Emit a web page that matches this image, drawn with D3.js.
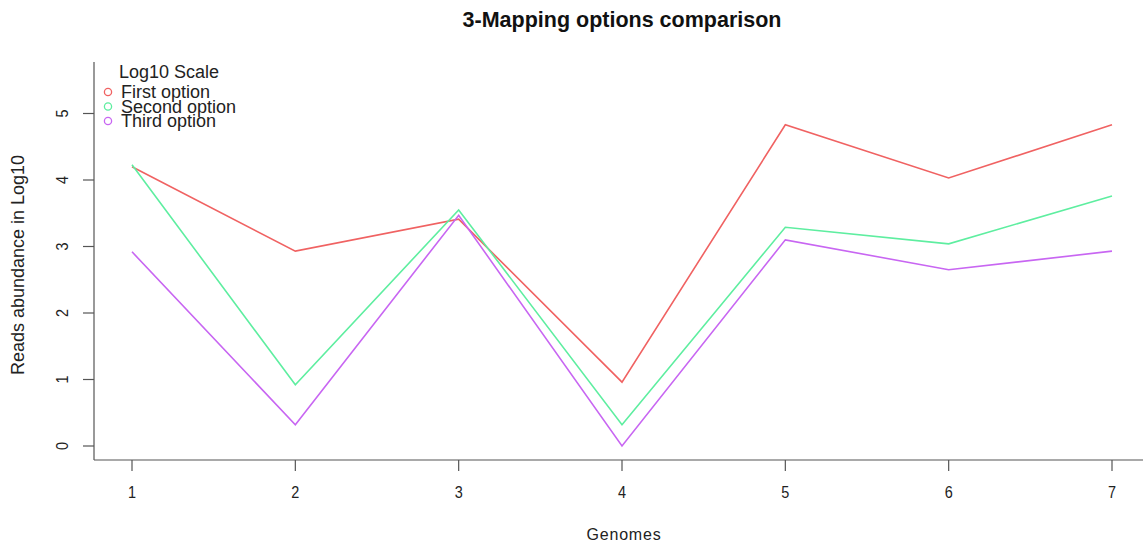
<!DOCTYPE html>
<html>
<head>
<meta charset="utf-8">
<script src="https://cdn.jsdelivr.net/npm/d3@7"></script>
<style>
  html, body { margin: 0; padding: 0; background: #fff; }
  svg { display: block; font-family: "Liberation Sans", Arial, sans-serif; }
</style>
</head>
<body>
<svg id="chart" width="1143" height="546"></svg>
<script>
// Genome indices along the x axis
const genomes = [1, 2, 3, 4, 5, 6, 7];
// Log10 read abundance per mapping option
const firstOption  = [4.20, 2.93, 3.41, 0.96, 4.83, 4.03, 4.83];
const secondOption = [4.23, 0.92, 3.55, 0.32, 3.29, 3.04, 3.76];
const thirdOption  = [2.92, 0.32, 3.47, 0.00, 3.10, 2.65, 2.93];
const seriesNames  = ["First option", "Second option", "Third option"];
const yTicks = [0, 1, 2, 3, 4, 5];

const colors = ["#f06262", "#5eeea0", "#c866f2"];
const seriesValues = [firstOption, secondOption, thirdOption];

const svg = d3.select("#chart");

const x = d3.scaleLinear().domain([1, 7]).range([132, 1112]);
const y = d3.scaleLinear().domain([0, 5]).range([446, 113.5]);

const axisColor = "#555";

// Left axis
const yAxis = svg.append("g").attr("transform", "translate(94,0)");
yAxis.append("line").attr("x1", 0).attr("x2", 0).attr("y1", 62).attr("y2", 460)
  .attr("stroke", axisColor).attr("stroke-width", 1.2);
yAxis.selectAll(".tick").data(yTicks).join("g")
  .attr("transform", d => `translate(0,${y(d)})`)
  .each(function (d) {
    const g = d3.select(this);
    g.append("line").attr("x1", -11).attr("x2", 0).attr("stroke", axisColor).attr("stroke-width", 1.2);
    g.append("text").attr("transform", "translate(-32,0) rotate(-90) scale(0.85,1)")
      .attr("text-anchor", "middle").attr("dy", "0.35em")
      .attr("font-size", 17).attr("fill", "#222").text(d);
  });

// Bottom axis
const xAxis = svg.append("g").attr("transform", "translate(0,460)");
xAxis.append("line").attr("x1", 94).attr("x2", 1143).attr("y1", 0).attr("y2", 0)
  .attr("stroke", axisColor).attr("stroke-width", 1.2);
xAxis.selectAll(".tick").data(genomes).join("g")
  .attr("transform", d => `translate(${x(d)},0)`)
  .each(function (d) {
    const g = d3.select(this);
    g.append("line").attr("y1", 0).attr("y2", 11).attr("stroke", axisColor).attr("stroke-width", 1.2);
    g.append("text").attr("transform", "translate(0,38) scale(0.85,1)").attr("text-anchor", "middle")
      .attr("font-size", 17).attr("fill", "#222").text(d);
  });

// Series lines
const line = d3.line().x((d, i) => x(genomes[i])).y(d => y(d));
svg.append("g").selectAll("path").data(seriesValues).join("path")
  .attr("d", line)
  .attr("fill", "none")
  .attr("stroke", (d, i) => colors[i])
  .attr("stroke-width", 1.6)
  .attr("stroke-linejoin", "miter");

// Title and axis labels
svg.append("text").attr("x", 622).attr("y", 27).attr("text-anchor", "middle")
  .attr("font-size", 21.5).attr("font-weight", "bold").attr("fill", "#111")
  .text("3-Mapping options comparison");
svg.append("text").attr("x", 624).attr("y", 540).attr("text-anchor", "middle")
  .attr("font-size", 16).attr("letter-spacing", 0.8).attr("fill", "#222").text("Genomes");
svg.append("text").attr("transform", "translate(24,265) rotate(-90)")
  .attr("text-anchor", "middle").attr("font-size", 18).attr("fill", "#222")
  .text("Reads abundance in Log10");

// Legend
const legend = svg.append("g");
legend.append("text").attr("x", 119).attr("y", 78)
  .attr("font-size", 18).attr("fill", "#222").text("Log10 Scale");
seriesNames.forEach((name, i) => {
  const yy = 92 + i * 14.5;
  legend.append("circle").attr("cx", 108).attr("cy", yy).attr("r", 3.6)
    .attr("fill", "none").attr("stroke", colors[i]).attr("stroke-width", 1.3);
  legend.append("text").attr("x", 121).attr("y", yy).attr("dy", "0.35em")
    .attr("font-size", 18).attr("fill", "#222").text(name);
});
</script>
</body>
</html>
